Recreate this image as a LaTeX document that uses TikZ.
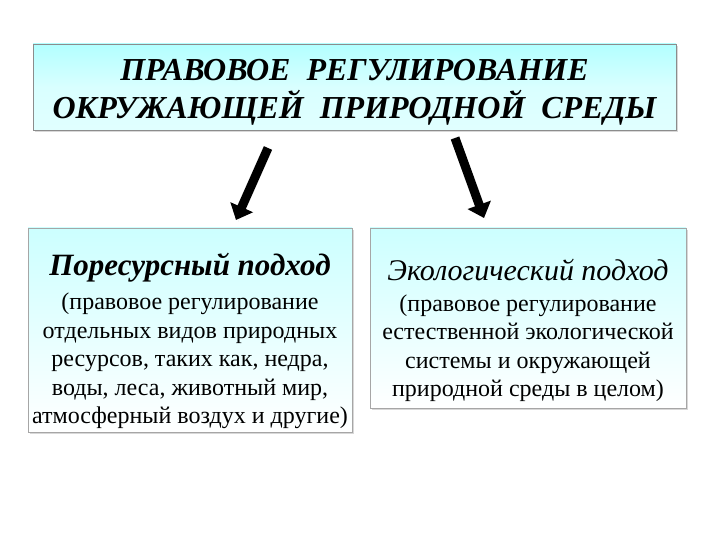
\documentclass[tikz,border=0pt]{standalone}
\usepackage{fontspec}
\setmainfont{Liberation Serif}
\usetikzlibrary{arrows.meta,shadows}
\begin{document}
\begin{tikzpicture}[x=1pt,y=1pt,
  topbox/.style={draw=black!45,top color=cyan!30,bottom color=cyan!12,middle color=white!85!cyan,
    drop shadow={shadow xshift=2pt,shadow yshift=-2pt,opacity=0.3}},
  subbox/.style={draw=black!35,top color=cyan!20,bottom color=white,
    drop shadow={shadow xshift=2pt,shadow yshift=-2pt,opacity=0.3}},
  arr/.style={line width=9pt,-{Triangle[length=14pt,width=24pt]},black,
    drop shadow={shadow xshift=2pt,shadow yshift=-2pt,opacity=0.3}}]
\useasboundingbox (0,0) rectangle (720,540);
\fill[white] (0,0) rectangle (720,540);
\path[topbox] (33,410) rectangle (676,496);
\node (t) at (354.5,448) [align=center,font=\fontsize{32}{38}\selectfont\bfseries\itshape]
  {ПРАВОВОЕ \ РЕГУЛИРОВАНИЕ\\ОКРУЖАЮЩЕЙ \ ПРИРОДНОЙ \ СРЕДЫ};
\path[subbox] (28,108) rectangle (352,312);
\path[subbox] (370,132) rectangle (686,312);
\node (l) at (190,272) [font=\fontsize{31}{34}\selectfont\bfseries\itshape] {Поресурсный подход};
\node (r) at (528,270) [font=\fontsize{30}{34}\selectfont\itshape] {Экологический подход};
\node (lb) at (190,179) [align=center,font=\fontsize{24}{28.5}\selectfont]
  {(правовое регулирование\\отдельных видов природных\\ресурсов, таких как, недра,\\воды, леса, животный мир,\\атмосферный воздух и другие)};
\node (rb) at (528,192) [align=center,font=\fontsize{24}{28.5}\selectfont]
  {(правовое регулирование\\естественной экологической\\системы и окружающей\\природной среды в целом)};
\coordinate (a1) at (268,392); \coordinate (a2) at (236,320);
\coordinate (b1) at (455,402); \coordinate (b2) at (484,322);
\draw[arr] (a1) -- (a2);
\draw[arr] (b1) -- (b2);
\end{tikzpicture}
\end{document}
